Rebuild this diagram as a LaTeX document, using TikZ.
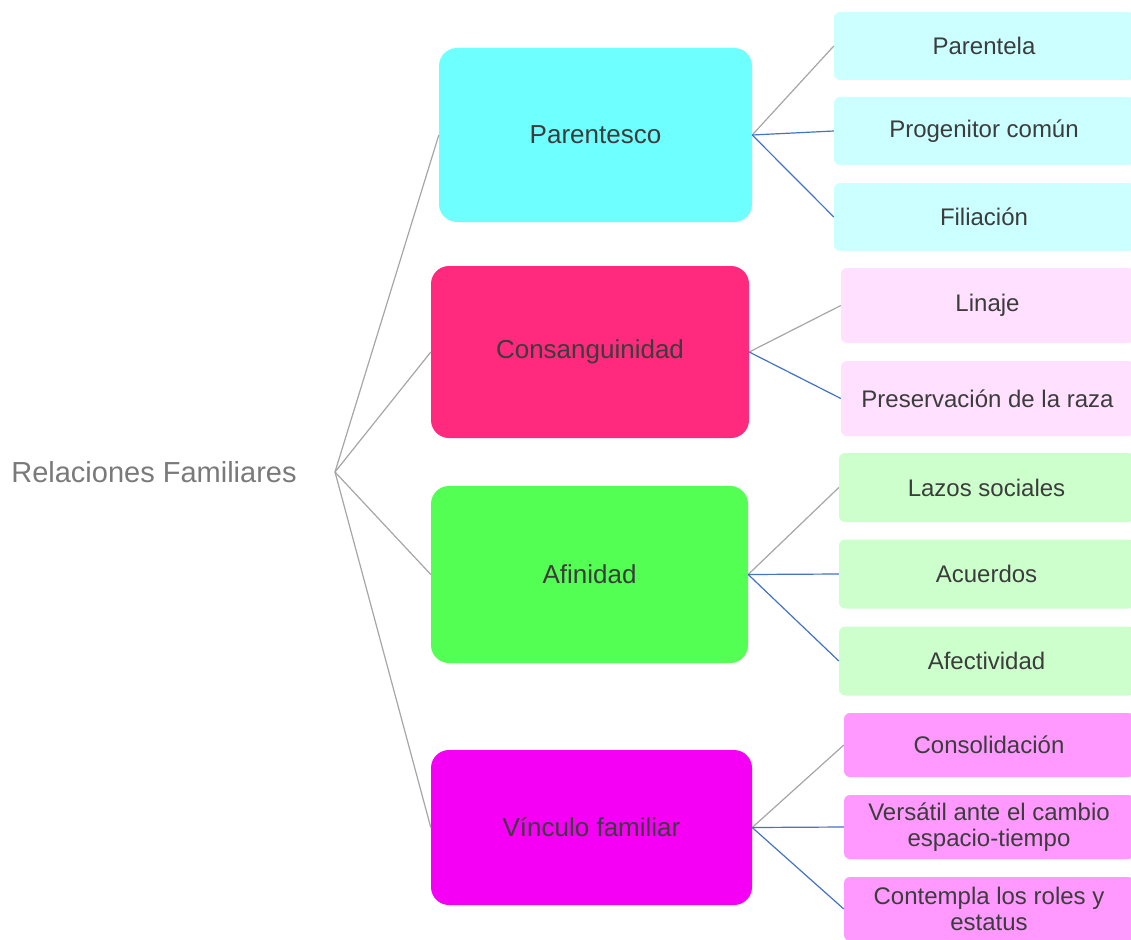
\documentclass[tikz,border=0pt]{standalone}
\usepackage{fontspec}
\setmainfont{Liberation Sans}
\definecolor{l1cyan}{HTML}{6EFFFF}
\definecolor{l1red}{HTML}{FF2A7E}
\definecolor{l1green}{HTML}{52FF52}
\definecolor{l1mag}{HTML}{F500F5}
\definecolor{chcyan}{HTML}{CCFFFF}
\definecolor{chpink}{HTML}{FFE0FF}
\definecolor{chgreen}{HTML}{CCFFCC}
\definecolor{chmag}{HTML}{FF99FF}
\definecolor{linegray}{HTML}{A6A6A6}
\definecolor{lineblue}{HTML}{4472C4}
\definecolor{txtdark}{HTML}{3C3C3C}
\definecolor{txtroot}{HTML}{7A7A7A}
\tikzset{
  lvlone/.style={rounded corners=18pt, inner sep=0pt, text=txtdark,
    font=\fontsize{26}{30}\selectfont},
  childbox/.style={rounded corners=6pt, inner sep=0pt, text=txtdark, align=center,
    font=\fontsize{24}{26.5}\selectfont, minimum width=300pt},
  gline/.style={draw=linegray, line width=1.2pt},
  bline/.style={draw=lineblue, line width=1.2pt},
}
\begin{document}
\begin{tikzpicture}[x=1pt,y=-1pt]
\useasboundingbox (0,0) rectangle (1131,939);
\clip (0,0) rectangle (1131,939);
\fill[white] (0,0) rectangle (1131,939);
% root
\node[text=txtroot, font=\fontsize{29}{33}\selectfont, inner sep=0pt] (root) at (154,472) {Relaciones Familiares};
\coordinate (hub) at (335,472);
% level one
\node[lvlone, fill=l1cyan, minimum width=313pt, minimum height=174pt] (p) at (595.5,135) {Parentesco};
\node[lvlone, fill=l1red, minimum width=318pt, minimum height=172pt] (c) at (590,352) {Consanguinidad};
\node[lvlone, fill=l1green, minimum width=317pt, minimum height=177pt] (a) at (589.5,574.5) {Afinidad};
\node[lvlone, fill=l1mag, minimum width=321pt, minimum height=155pt] (v) at (591.5,827.5) {Vínculo familiar};
% children
\node[childbox, fill=chcyan, minimum width=300pt, minimum height=68pt] (p1) at (984,46) {Parentela};
\node[childbox, fill=chcyan, minimum width=300pt, minimum height=68pt] (p2) at (984,131) {Progenitor común};
\node[childbox, fill=chcyan, minimum width=300pt, minimum height=68pt] (p3) at (984,217) {Filiación};
\node[childbox, fill=chpink, minimum width=293pt, minimum height=75pt] (c1) at (987.5,305.5) {Linaje};
\node[childbox, fill=chpink, minimum width=293pt, minimum height=75pt] (c2) at (987.5,398.5) {Preservación de la raza};
\node[childbox, fill=chgreen, minimum width=295pt, minimum height=69pt] (a1) at (986.5,487.5) {Lazos sociales};
\node[childbox, fill=chgreen, minimum width=295pt, minimum height=69pt] (a2) at (986.5,574) {Acuerdos};
\node[childbox, fill=chgreen, minimum width=295pt, minimum height=69pt] (a3) at (986.5,661) {Afectividad};
\node[childbox, fill=chmag, minimum width=290pt, minimum height=64pt] (v1) at (989,745) {Consolidación};
\node[childbox, fill=chmag, minimum width=290pt, minimum height=64pt] (v2) at (989,827) {Versátil ante el cambio\\espacio-tiempo};
\node[childbox, fill=chmag, minimum width=290pt, minimum height=64pt] (v3) at (989,909) {Contempla los roles y\\estatus};
% root connectors
\foreach \n in {p,c,a,v} \draw[gline] (hub) -- (\n.west);
% child connectors
\draw[gline] (p.east) -- (p1.west);
\draw[bline] (p.east) -- (p2.west);
\draw[bline] (p.east) -- (p3.west);
\draw[gline] (c.east) -- (c1.west);
\draw[bline] (c.east) -- (c2.west);
\draw[gline] (a.east) -- (a1.west);
\draw[bline] (a.east) -- (a2.west);
\draw[bline] (a.east) -- (a3.west);
\draw[gline] (v.east) -- (v1.west);
\draw[bline] (v.east) -- (v2.west);
\draw[bline] (v.east) -- (v3.west);
\end{tikzpicture}
\end{document}
